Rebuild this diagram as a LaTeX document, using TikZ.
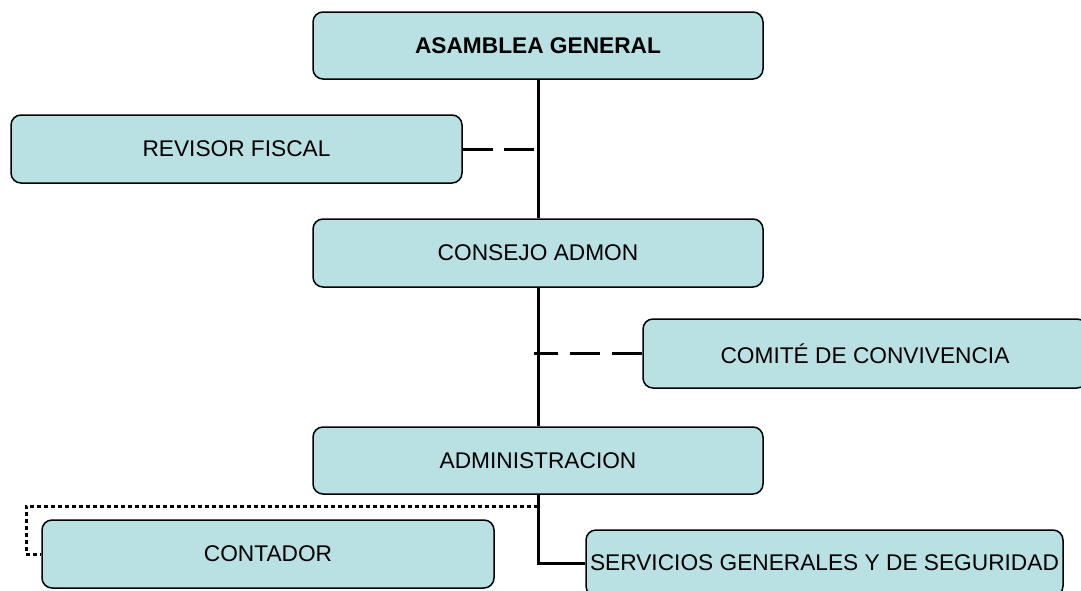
\documentclass[tikz,border=0pt]{standalone}
\usepackage{fontspec}
\setmainfont{Liberation Sans}
\usetikzlibrary{arrows,shapes,positioning}
\definecolor{cajafill}{RGB}{185,224,227}
\begin{document}
\begin{tikzpicture}[x=1pt,y=-1pt]
                    \tikzstyle{caja}=[draw=black, line width=1.5pt, fill=cajafill, rounded corners=10pt, inner sep=2pt, font=\fontsize{22.7}{27}\selectfont]
                    \tikzstyle{linea}=[black, line width=3pt]
                    \clip (0,0) rectangle (1081,590);
                    \node [caja, minimum width=450, minimum height=67] (asamblea) at (538,45.5) {\bfseries ASAMBLEA GENERAL};
                    \node [caja, minimum width=451, minimum height=68] (revisor) at (236.5,149) {REVISOR FISCAL};
                    \node [caja, minimum width=450, minimum height=68] (consejo) at (538,253) {CONSEJO ADMON};
                    \node [caja, minimum width=444, minimum height=69] (comite) at (865,353.5) {COMITÉ DE CONVIVENCIA};
                    \node [caja, minimum width=450, minimum height=67] (administracion) at (538,460.5) {ADMINISTRACION};
                    \node [caja, minimum width=452, minimum height=68] (contador) at (268,554) {CONTADOR};
                    \node [caja, minimum width=477, minimum height=66] (servicios) at (824.5,563) {SERVICIOS GENERALES Y DE SEGURIDAD};
                    \draw [linea] (asamblea.south) -- (consejo.north);
                    \draw [linea] (consejo.south) -- (administracion.north);
                    \draw [linea, dash pattern=on 30pt off 11pt] (revisor.east) -- (revisor.east -| asamblea.south);
                    \draw [linea, dash pattern=on 30pt off 12pt] (comite.west) -- ([xshift=-4pt]comite.west -| consejo.south);
                    \draw [linea] (administracion.south) |- (servicios.west);
                    \coordinate (tap) at (administracion.south |- 0,506);
                    \draw [linea, dash pattern=on 4pt off 3pt] (tap) -| ([xshift=-15pt]contador.west) -- (contador.west);
                \end{tikzpicture}
\end{document}
